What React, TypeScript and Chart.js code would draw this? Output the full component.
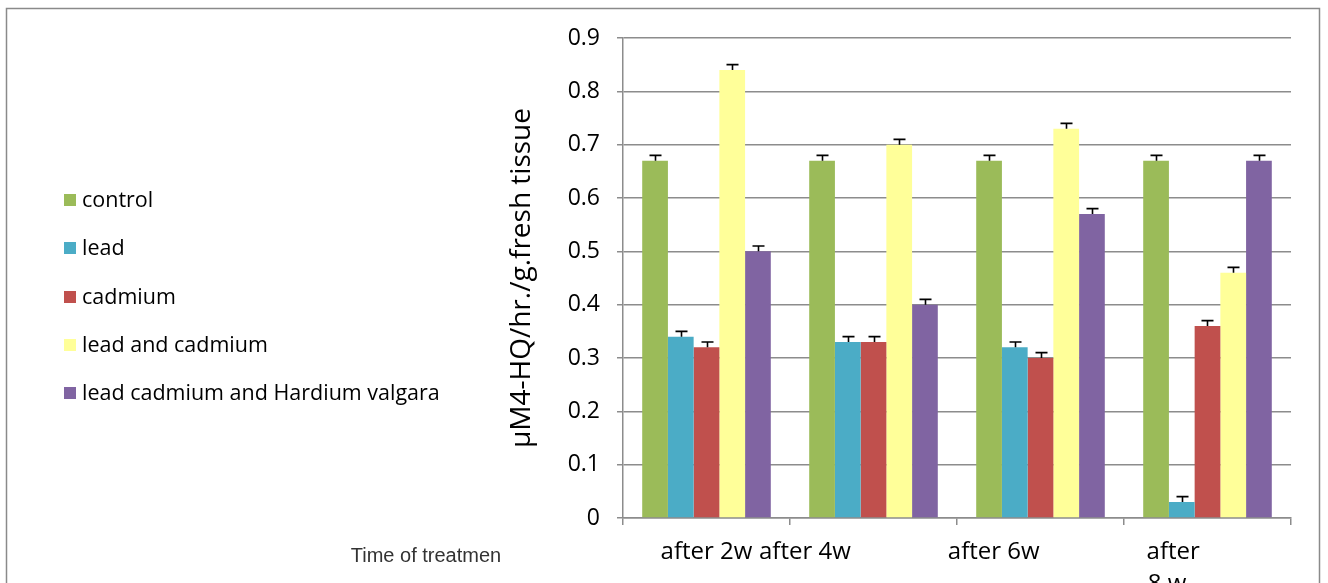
import React, { useEffect, useRef } from "react";
import { Chart, registerables } from "chart.js";

Chart.register(...registerables);

// ---- data ----
const categories = ["after 2w", "after 4w", "after 6w", "after 8 w"];
const sp = (n: number) => " ".repeat(n);
const xTickLabels: string[][] = [
  ["after 2w"],
  ["after 4w" + sp(22)],
  ["after 6w" + sp(15)],
  ["after" + sp(11), "8 w" + sp(13)],
];
const seriesNames = [
  "control",
  "lead",
  "cadmium",
  "lead and cadmium",
  "lead cadmium and Hardium valgara",
];
const control = [0.67, 0.67, 0.67, 0.67];
const lead = [0.34, 0.33, 0.32, 0.03];
const cadmium = [0.32, 0.33, 0.3, 0.36];
const leadAndCadmium = [0.84, 0.7, 0.73, 0.46];
const leadCadmiumHardium = [0.5, 0.4, 0.57, 0.67];
const errControl = [0.01, 0.01, 0.01, 0.01];
const errLead = [0.01, 0.01, 0.01, 0.01];
const errCadmium = [0.01, 0.01, 0.01, 0.01];
const errLeadAndCadmium = [0.01, 0.01, 0.01, 0.01];
const errLeadCadmiumHardium = [0.01, 0.01, 0.01, 0.01];
const seriesColors = ["#9BBB59", "#4BACC6", "#C0504D", "#FFFF99", "#8064A2"];
const yMin = 0;
const yMax = 0.9;
const yStep = 0.1;
const yAxisTitle = "µM4-HQ/hr./g.fresh tissue";
const xAxisNote = "Time of treatmen";

const FONT = "'Open Sans', 'DejaVu Sans', sans-serif";
const GRID = "#8c8c8c";

const framePlugin = {
  id: "frame",
  beforeDraw(chart: any) {
    const ctx = chart.ctx;
    ctx.save();
    ctx.fillStyle = "#ffffff";
    ctx.fillRect(0, 0, chart.width, chart.height);
    ctx.strokeStyle = "#8a8a8a";
    ctx.lineWidth = 1.5;
    ctx.strokeRect(6.5, 8.5, 1313, 700);
    ctx.restore();
  },
};

const errorBarPlugin = {
  id: "errorBars",
  afterDatasetsDraw(chart: any) {
    const ctx = chart.ctx;
    const yScale = chart.scales.y;
    ctx.save();
    ctx.strokeStyle = "#000000";
    ctx.lineWidth = 1.6;
    chart.data.datasets.forEach((ds: any, i: number) => {
      const meta = chart.getDatasetMeta(i);
      meta.data.forEach((bar: any, j: number) => {
        const v = ds.data[j];
        const e = ds.errors[j];
        const yTop = yScale.getPixelForValue(v + e);
        const x = Math.round(bar.x) + 0.5;
        ctx.beginPath();
        ctx.moveTo(x, bar.y);
        ctx.lineTo(x, yTop);
        ctx.moveTo(x - 6, yTop);
        ctx.lineTo(x + 6, yTop);
        ctx.stroke();
      });
    });
    ctx.restore();
  },
};

const sideLegendPlugin = {
  id: "sideLegend",
  afterDraw(chart: any) {
    const ctx = chart.ctx;
    ctx.save();
    ctx.font = `21.5px ${FONT}`;
    ctx.textBaseline = "middle";
    ctx.textAlign = "left";
    chart.data.datasets.forEach((ds: any, i: number) => {
      const cy = 200 + i * 48.25;
      ctx.fillStyle = ds.backgroundColor;
      ctx.fillRect(64, Math.round(cy - 6), 12, 12);
      ctx.fillStyle = "#000000";
      ctx.fillText(ds.label, 82, cy + 1);
    });
    ctx.font = `20px 'Liberation Sans', Arial, sans-serif`;
    ctx.fillStyle = "#333333";
    ctx.textAlign = "center";
    ctx.fillText(xAxisNote, 426, 556);
    ctx.restore();
  },
};

export default function App() {
  const ref = useRef<HTMLCanvasElement | null>(null);

  useEffect(() => {
    if (!ref.current) return;
    const seriesValues = [control, lead, cadmium, leadAndCadmium, leadCadmiumHardium];
    const seriesErrors = [errControl, errLead, errCadmium, errLeadAndCadmium, errLeadCadmiumHardium];
    const chart = new Chart(ref.current, {
      type: "bar",
      data: {
        labels: categories,
        datasets: seriesNames.map((name, i) => ({
          label: name,
          data: seriesValues[i],
          errors: seriesErrors[i],
          backgroundColor: seriesColors[i],
          borderWidth: 0,
          categoryPercentage: 0.77,
          barPercentage: 1.0,
        })) as any,
      },
      options: {
        animation: false,
        responsive: false,
        devicePixelRatio: 1,
        layout: { padding: { left: 500, right: 37, top: 38, bottom: 0 } },
        plugins: {
          legend: { display: false },
          tooltip: { enabled: false },
        },
        scales: {
          x: {
            grid: {
              display: true,
              drawOnChartArea: false,
              drawTicks: true,
              tickLength: 7,
              color: GRID,
              lineWidth: 1.5,
              offset: true,
            },
            border: { display: true, color: GRID, width: 1.5 },
            ticks: {
              autoSkip: false,
              maxRotation: 0,
              minRotation: 0,
              padding: 12,
              color: "#000000",
              font: { family: FONT, size: 24, lineHeight: 1.3 },
              callback: (_v: any, i: number) => xTickLabels[i],
            },
            afterFit: (s: any) => {
              s.height = 65;
            },
          },
          y: {
            min: yMin,
            max: yMax,
            ticks: {
              stepSize: yStep,
              padding: 17,
              color: "#000000",
              font: { family: FONT, size: 23 },
              callback: (v: any) => (Number(v) === 0 ? "0" : Number(v).toFixed(1)),
            },
            grid: { color: GRID, lineWidth: 1.5, tickLength: 6 },
            border: { display: true, color: GRID, width: 1.5 },
            title: {
              display: true,
              text: yAxisTitle,
              color: "#000000",
              font: { family: FONT, size: 28 },
              padding: { top: 5, bottom: 0 },
            },
            afterFit: (s: any) => {
              s.width = 123;
            },
          },
        },
      } as any,
      plugins: [framePlugin, errorBarPlugin, sideLegendPlugin],
    });
    return () => chart.destroy();
  }, []);

  return (
    <div style={{ position: "absolute", left: 0, top: 0, width: 1328, height: 583, overflow: "hidden", background: "#fff" }}>
      <canvas ref={ref} width={1328} height={583} style={{ width: 1328, height: 583, display: "block" }} />
    </div>
  );
}
